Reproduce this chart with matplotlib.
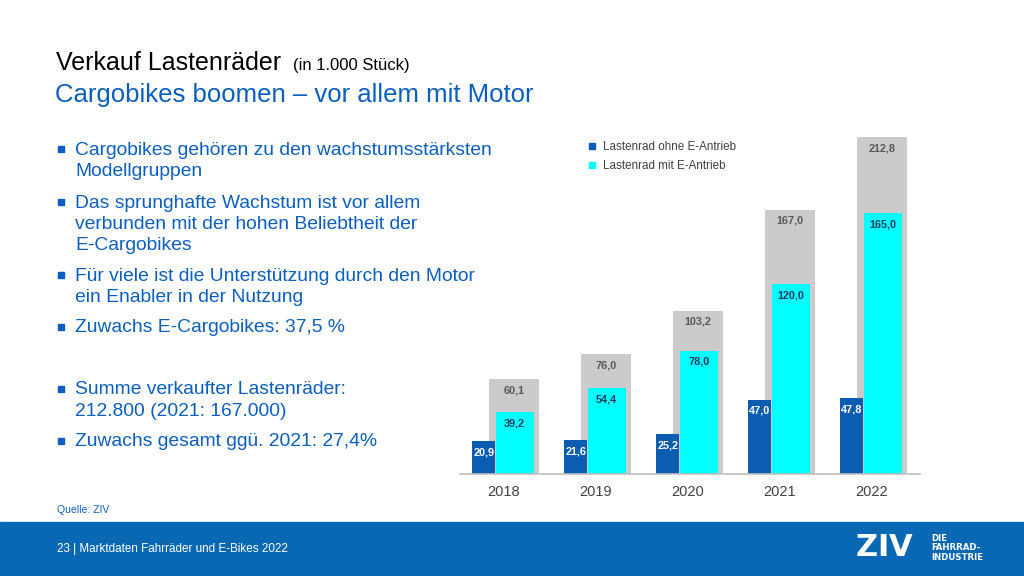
import matplotlib.pyplot as plt
from matplotlib.lines import Line2D
from matplotlib.patches import Rectangle

plt.rcParams['font.family'] = ['Liberation Sans', 'DejaVu Sans']

# data (in 1.000 Stück)
years = ['2018', '2019', '2020', '2021', '2022']
ohne_e = [20.9, 21.6, 25.2, 47.0, 47.8]
mit_e = [39.2, 54.4, 78.0, 120.0, 165.0]
gesamt = [60.1, 76.0, 103.2, 167.0, 212.8]

blue_dark = '#0a5db0'
cyan = '#00ffff'
grey = '#cccacb'
text_blue = '#0b5fc0'

fig = plt.figure(figsize=(10.24, 5.76), dpi=100)

# ----- chart -----
ax = fig.add_axes([460 / 1024, 1 - 474 / 576, 460 / 1024, 380 / 576])
x = list(range(len(years)))

ax.bar([i + 0.115 for i in x], gesamt, width=0.55, color=grey, zorder=1)
ax.bar([i - 0.21 for i in x], ohne_e, width=0.25, color=blue_dark, zorder=2)
ax.bar([i + 0.125 for i in x], mit_e, width=0.41, color=cyan, zorder=2)

def fmt(v):
    return f"{v:.1f}".replace('.', ',')

for i in x:
    ax.text(i + 0.115, gesamt[i] - 4, fmt(gesamt[i]), ha='center', va='top',
            fontsize=7.8, fontweight='bold', color='#595959', zorder=3)
    ax.text(i + 0.125, mit_e[i] - 4, fmt(mit_e[i]), ha='center', va='top',
            fontsize=7.8, fontweight='bold', color='#1f3b5c', zorder=3)
    ax.text(i - 0.21, ohne_e[i] - 4, fmt(ohne_e[i]), ha='center', va='top',
            fontsize=7.8, fontweight='bold', color='white', zorder=3)

ax.set_xlim(-0.47, 4.53)
ax.set_ylim(0, 240)
ax.set_xticks(x)
ax.set_xticklabels(years, fontsize=10.5, color='#404040')
ax.tick_params(axis='x', length=0, pad=8)
ax.set_yticks([])
for s in ['top', 'right', 'left']:
    ax.spines[s].set_visible(False)
ax.spines['bottom'].set_color('#bfbfbf')
ax.spines['bottom'].set_linewidth(1.2)

handles = [Line2D([], [], marker='s', linestyle='', markersize=5, color=blue_dark),
           Line2D([], [], marker='s', linestyle='', markersize=5, color=cyan)]
ax.legend(handles, ['Lastenrad ohne E-Antrieb', 'Lastenrad mit E-Antrieb'],
          loc='upper left', bbox_to_anchor=(0.255, 0.905), frameon=False,
          fontsize=8.4, labelcolor='#404040', handletextpad=0.5,
          labelspacing=0.6, handlelength=0.8)

# ----- title -----
fig.text(56 / 1024, 1 - 70 / 576, 'Verkauf Lastenräder', fontsize=18, color='black',
         va='baseline')
fig.text(293 / 1024, 1 - 70 / 576, '(in 1.000 Stück)', fontsize=12, color='black',
         va='baseline')
fig.text(55 / 1024, 1 - 102 / 576, 'Cargobikes boomen – vor allem mit Motor',
         fontsize=18.5, color=text_blue, va='baseline')

# ----- bullets -----
bullets = [
    (150, ['Cargobikes gehören zu den wachstumsstärksten', 'Modellgruppen']),
    (203, ['Das sprunghafte Wachstum ist vor allem',
           'verbunden mit der hohen Beliebtheit der', 'E-Cargobikes']),
    (276, ['Für viele ist die Unterstützung durch den Motor',
           'ein Enabler in der Nutzung']),
    (328, ['Zuwachs E-Cargobikes: 37,5 %']),
    (390, ['Summe verkaufter Lastenräder:', '212.800 (2021: 167.000)']),
    (442, ['Zuwachs gesamt ggü. 2021: 27,4%']),
]
for y0, lines in bullets:
    fig.patches.append(Rectangle((58 / 1024, 1 - (y0 + 2) / 576), 6 / 1024, 6 / 576,
                                 transform=fig.transFigure, color=text_blue))
    for k, line in enumerate(lines):
        fig.text(75 / 1024, 1 - (y0 + 21.5 * k) / 576, line, fontsize=13.9,
                 color=text_blue, va='center')

fig.text(57 / 1024, 1 - 510 / 576, 'Quelle: ZIV', fontsize=7.5, color=text_blue,
         va='center')

# ----- footer -----
fig.patches.append(Rectangle((0, 0), 1, 54 / 576, transform=fig.transFigure,
                             color='#0868b4', zorder=0))
fig.text(57 / 1024, 1 - 549 / 576, '23 | Marktdaten Fahrräder und E-Bikes 2022',
         fontsize=8.4, color='white', va='center')
# ZIV logo, letters placed one by one to get the wide look
for letter, lx in [('Z', 856), ('I', 877), ('V', 889)]:
    fig.text(lx / 1024, 1 - 556 / 576, letter, fontsize=22, fontweight='heavy',
             color='white', va='baseline', family='DejaVu Sans')
fig.text(931 / 1024, 1 - 548 / 576, 'DIE\nFAHRRAD-\nINDUSTRIE', fontsize=6.2,
         fontweight='bold', color='white', va='center', linespacing=1.05,
         family='DejaVu Sans')

fig.savefig('out.png', dpi=100)
